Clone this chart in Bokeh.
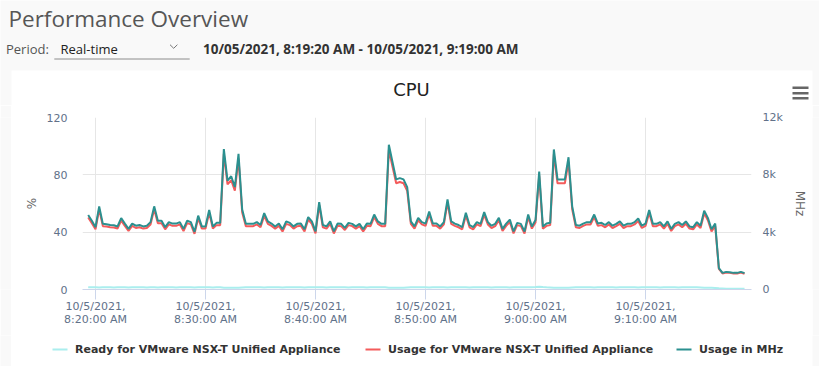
import pandas as pd
from bokeh.plotting import figure
from bokeh.layouts import column, row
from bokeh.models import (Range1d, LinearAxis, FixedTicker, ColumnDataSource)
from bokeh.core.properties import value
from bokeh.embed import file_html
from bokeh.resources import INLINE

# ---------------- data ----------------
start_time = "2021-10-05 08:19:20"
n_points = 180
sample_freq = "20s"

usage_mhz = [
    5200, 4800, 4350, 5800, 4580, 4550, 4500, 4480, 4400, 4980,
    4600, 4230, 4600, 4450, 4500, 4400, 4450, 4700, 5800, 4800,
    4800, 4350, 4700, 4600, 4600, 4700, 4230, 4800, 4700, 4020,
    5150, 4400, 4400, 5550, 4400, 4650, 4650, 9800, 7600, 7900,
    7150, 9470, 5580, 4580, 4580, 4580, 4700, 4500, 5330, 4750,
    4600, 4400, 4600, 4200, 4750, 4650, 4400, 4580, 4600, 4200,
    5050, 4750, 4050, 6100, 4500, 4400, 4750, 4050, 4600, 4580,
    4300, 4650, 4580, 4400, 4580, 4200, 4600, 4580, 5230, 4750,
    4580, 4580, 10100, 8880, 7680, 7770, 7680, 7140, 4750, 4400,
    5000, 4700, 4600, 5440, 4600, 4600, 4400, 4700, 6280, 4750,
    4600, 4500, 4350, 5350, 4500, 4350, 4700, 4580, 5400, 4700,
    4450, 4580, 5000, 4230, 4600, 4880, 4050, 4650, 4580, 4050,
    5230, 4400, 4850, 8230, 4400, 4600, 4650, 9770, 7680, 7680,
    7680, 9230, 5800, 4500, 4450, 4600, 4700, 4700, 5230, 4600,
    4650, 4500, 4700, 4450, 4580, 4750, 4450, 4580, 4580, 4700,
    4950, 4450, 4600, 5550, 4580, 4580, 4700, 4400, 4750, 4230,
    4580, 4700, 4500, 4750, 4400, 4350, 4700, 4450, 5500, 5000,
    4200, 4600, 1490, 1160, 1230, 1200, 1160, 1160, 1230, 1140,
]

usage_pct = [
    50.2, 46.3, 42.0, 56.0, 44.2, 43.9, 43.4, 43.2, 42.5, 48.1,
    44.4, 40.8, 44.4, 42.9, 43.4, 42.5, 42.9, 45.4, 56.0, 46.3,
    46.3, 42.0, 45.4, 44.4, 44.4, 45.4, 40.8, 46.3, 45.4, 38.8,
    49.7, 42.5, 42.5, 53.6, 42.5, 44.9, 44.9, 94.6, 73.3, 76.2,
    69.0, 91.4, 53.8, 44.2, 44.2, 44.2, 45.4, 43.4, 51.4, 45.8,
    44.4, 42.5, 44.4, 40.5, 45.8, 44.9, 42.5, 44.2, 44.4, 40.5,
    48.7, 45.8, 39.1, 58.9, 43.4, 42.5, 45.8, 39.1, 44.4, 44.2,
    41.5, 44.9, 44.2, 42.5, 44.2, 40.5, 44.4, 44.2, 50.5, 45.8,
    44.2, 44.2, 97.5, 85.7, 74.1, 75.0, 74.1, 68.9, 45.8, 42.5,
    48.3, 45.4, 44.4, 52.5, 44.4, 44.4, 42.5, 45.4, 60.6, 45.8,
    44.4, 43.4, 42.0, 51.6, 43.4, 42.0, 45.4, 44.2, 52.1, 45.4,
    42.9, 44.2, 48.3, 40.8, 44.4, 47.1, 39.1, 44.9, 44.2, 39.1,
    50.5, 42.5, 46.8, 79.4, 42.5, 44.4, 44.9, 94.3, 74.1, 74.1,
    74.1, 89.1, 56.0, 43.4, 42.9, 44.4, 45.4, 45.4, 50.5, 44.4,
    44.9, 43.4, 45.4, 42.9, 44.2, 45.8, 42.9, 44.2, 44.2, 45.4,
    47.8, 42.9, 44.4, 53.6, 44.2, 44.2, 45.4, 42.5, 45.8, 40.8,
    44.2, 45.4, 43.4, 45.8, 42.5, 42.0, 45.4, 42.9, 53.1, 48.3,
    40.5, 44.4, 14.4, 11.2, 11.9, 11.6, 11.2, 11.2, 11.9, 11.0,
]

ready_pct = [
    1.6, 1.5, 1.5, 1.4, 1.6, 1.5, 1.5, 1.4, 1.5, 1.6, 1.5, 1.4, 1.5, 1.5, 1.6, 1.5, 1.4, 1.5, 1.5, 1.4,
    1.5, 1.6, 1.5, 1.5, 1.4, 1.5, 1.5, 1.6, 1.5, 1.4, 1.5, 1.5, 1.6, 1.5, 1.4, 1.5, 1.5, 1.2, 1.3, 1.3,
    1.2, 1.3, 1.4, 1.5, 1.5, 1.6, 1.5, 1.5, 1.4, 1.5, 1.5, 1.6, 1.5, 1.4, 1.5, 1.5, 1.5, 1.6, 1.5, 1.4,
    1.5, 1.5, 1.6, 1.5, 1.5, 1.4, 1.5, 1.5, 1.6, 1.5, 1.5, 1.4, 1.5, 1.5, 1.6, 1.5, 1.4, 1.5, 1.5, 1.5,
    1.6, 1.5, 1.3, 1.2, 1.3, 1.3, 1.3, 1.4, 1.5, 1.5, 1.6, 1.5, 1.5, 1.4, 1.5, 1.6, 1.5, 1.5, 1.4, 1.5,
    1.5, 1.6, 1.5, 1.5, 1.4, 1.5, 1.5, 1.6, 1.5, 1.5, 1.4, 1.5, 1.6, 1.5, 1.5, 1.4, 1.5, 1.5, 1.6, 1.5,
    1.5, 1.6, 1.7, 2.0, 1.7, 1.5, 1.4, 1.3, 1.2, 1.3, 1.3, 1.3, 1.4, 1.5, 1.5, 1.6, 1.5, 1.5, 1.4, 1.5,
    1.5, 1.6, 1.5, 1.5, 1.4, 1.5, 1.5, 1.6, 1.5, 1.5, 1.4, 1.5, 1.5, 1.6, 1.5, 1.5, 1.4, 1.5, 1.5, 1.6,
    1.5, 1.4, 1.5, 1.5, 1.6, 1.5, 1.5, 1.4, 1.3, 1.2, 1.2, 1.1, 0.8, 0.7, 0.6, 0.6, 0.6, 0.6, 0.6, 0.6,
]

x_tick_times = ["2021-10-05 08:20:00", "2021-10-05 08:30:00", "2021-10-05 08:40:00",
                "2021-10-05 08:50:00", "2021-10-05 09:00:00", "2021-10-05 09:10:00"]
x_tick_labels = ["10/5/2021,\n8:20:00 AM", "10/5/2021,\n8:30:00 AM", "10/5/2021,\n8:40:00 AM",
                 "10/5/2021,\n8:50:00 AM", "10/5/2021,\n9:00:00 AM", "10/5/2021,\n9:10:00 AM"]
y_left_ticks = [0, 40, 80, 120]
y_right_ticks = [0, 4000, 8000, 12000]
y_right_labels = ["0", "4k", "8k", "12k"]

series_names = ["Ready for VMware NSX-T Unified Appliance",
                "Usage for VMware NSX-T Unified Appliance",
                "Usage in MHz"]
series_colors = ["#aaeeee", "#f45b5b", "#2b908f"]

page_title = "Performance Overview"
period_label = "Period:"
period_value = "Real-time"
range_text = "10/05/2021, 8:19:20 AM - 10/05/2021, 9:19:00 AM"
chart_title = "CPU"

# ---------------- layout constants ----------------
W = 819
PAGE_BG = "#f9f9f9"
CARD_L, CARD_R, CARD_T = 11, 812, 70
HEAD_H = 105                      # header figure height (page top -> 105)
CHART_TOP, CHART_BOT = HEAD_H, 335
FL, FR, FT, FB = 82, 751, 117, 289  # frame edges in page pixels
LEG_H = 366 - CHART_BOT
FONT = "DejaVu Sans"
TICK_COLOR = "#617189"


def blank(width, height, bg):
    f = figure(width=width, height=height, output_backend="svg", toolbar_location=None,
               title=None, x_axis_location=None, y_axis_location=None, min_border=0,
               x_range=Range1d(0, width), y_range=Range1d(height, 0))
    f.outline_line_color = None
    f.grid.visible = False
    f.background_fill_color = bg
    f.border_fill_color = bg
    return f


def put_text(fig, x, y, txt, size, color, style="normal", font="Open Sans", align="left"):
    fig.text(x=[x], y=[y], text=[txt], text_font=value(font), text_font_size=size,
             text_color=color, text_font_style=style, text_align=align,
             text_baseline="middle")


# ---------------- header (page title, period row, chart title, menu icon) ----------------
hdr = blank(W, HEAD_H, PAGE_BG)
hdr.quad(left=[CARD_L], right=[CARD_R], top=[CARD_T], bottom=[HEAD_H + 5],
         fill_color="white", line_color=None)

put_text(hdr, 8, 18, page_title, "22.5px", "#565656")
put_text(hdr, 5.5, 48, period_label, "13px", "#555555")
put_text(hdr, 60, 48, period_value, "13px", "#222222")
put_text(hdr, 202.5, 48, range_text, "13.5px", "#333333", style="bold")
hdr.segment(x0=[53.8], y0=[58.5], x1=[189.2], y1=[58.5], line_color="#8c8c8c", line_width=1)
hdr.line(x=[169.5, 173.2, 176.9], y=[44.2, 47.8, 44.2], line_color="#777777", line_width=1)
put_text(hdr, 411, 88.5, chart_title, "18px", "#222222", font=FONT, align="center")
hdr.segment(x0=[792, 792, 792], y0=[87.3, 92.7, 97.7], x1=[808, 808, 808],
            y1=[87.3, 92.7, 97.7], line_color="#666666", line_width=2.5)

# ---------------- chart ----------------
times = pd.date_range(start_time, periods=n_points, freq=sample_freq)
src = ColumnDataSource(dict(t=times, ready=ready_pct, pct=usage_pct, mhz=usage_mhz))

x_start = pd.Timestamp("2021-10-05 08:18:49")
x_end = pd.Timestamp("2021-10-05 09:19:38")

CW = CARD_R - CARD_L
p = figure(width=CW, height=CHART_BOT - CHART_TOP, output_backend="svg",
           toolbar_location=None, title=None,
           x_axis_type="datetime", x_range=Range1d(x_start, x_end), y_range=Range1d(0, 120),
           min_border_left=FL - CARD_L, min_border_right=CARD_R - FR,
           min_border_top=FT - CHART_TOP, min_border_bottom=CHART_BOT - FB)
p.extra_y_ranges = {"mhz": Range1d(0, 12000)}
p.outline_line_color = None
p.border_fill_color = "white"
p.background_fill_color = "white"

p.line("t", "ready", source=src, color=series_colors[0], line_width=2)
p.line("t", "pct", source=src, color=series_colors[1], line_width=2)
p.line("t", "mhz", source=src, color=series_colors[2], line_width=2, y_range_name="mhz")

tick_ms = [int(pd.Timestamp(t).value // 10**6) for t in x_tick_times]
xa = p.xaxis[0]
xa.ticker = FixedTicker(ticks=tick_ms)
xa.major_label_overrides = {k: v for k, v in zip(tick_ms, x_tick_labels)}
xa.axis_line_color = "#ccd6eb"
xa.major_tick_line_color = "#ccd6eb"
xa.major_tick_out = 10
xa.major_tick_in = 0
xa.minor_tick_line_color = None
xa.major_label_standoff = 0
xa.major_label_text_font = FONT
xa.major_label_text_font_size = "11px"
xa.major_label_text_color = TICK_COLOR
xa.major_label_text_line_height = 1.05

ya = p.yaxis[0]
ya.ticker = FixedTicker(ticks=y_left_ticks)
ya.axis_line_color = None
ya.major_tick_line_color = None
ya.minor_tick_line_color = None
ya.major_tick_out = 0
ya.major_tick_in = 0
ya.major_label_standoff = 15
ya.major_label_text_font = FONT
ya.major_label_text_font_size = "11px"
ya.major_label_text_color = TICK_COLOR
ya.axis_label = "%"
ya.axis_label_text_font = FONT
ya.axis_label_text_font_size = "12px"
ya.axis_label_text_font_style = "normal"
ya.axis_label_text_color = "#666666"
ya.axis_label_standoff = 5

yr = LinearAxis(y_range_name="mhz", ticker=FixedTicker(ticks=y_right_ticks))
yr.major_label_overrides = {k: v for k, v in zip(y_right_ticks, y_right_labels)}
yr.axis_line_color = None
yr.major_tick_line_color = None
yr.minor_tick_line_color = None
yr.major_tick_out = 0
yr.major_tick_in = 0
yr.major_label_standoff = 11
yr.major_label_text_font = FONT
yr.major_label_text_font_size = "11px"
yr.major_label_text_color = TICK_COLOR
yr.axis_label = "MHz"
yr.axis_label_text_font = FONT
yr.axis_label_text_font_size = "12px"
yr.axis_label_text_font_style = "normal"
yr.axis_label_text_color = "#666666"
yr.axis_label_standoff = 7
p.add_layout(yr, "right")

p.xgrid.grid_line_color = "#e6e6e6"
p.ygrid.grid_line_color = "#e6e6e6"

# ---------------- legend strip (drawn by hand, below the chart) ----------------
leg = blank(CW, LEG_H, "white")
LEG_Y = 349 - CHART_BOT
legend_line_x = [52, 365, 676]      # page x of each legend symbol's left end
for name, color, lx in zip(series_names, series_colors, legend_line_x):
    x0 = lx - CARD_L
    leg.segment(x0=[x0], y0=[LEG_Y], x1=[x0 + 15], y1=[LEG_Y], line_color=color, line_width=2)
    put_text(leg, x0 + 22.5, LEG_Y, name, "11px", "#333333", style="bold", font=FONT)

# ---------------- side strips of the page background ----------------
chart_row = row(blank(CARD_L, CHART_BOT - CHART_TOP, PAGE_BG), p,
                blank(W - CARD_R, CHART_BOT - CHART_TOP, PAGE_BG))
legend_row = row(blank(CARD_L, LEG_H, PAGE_BG), leg, blank(W - CARD_R, LEG_H, PAGE_BG))

layout = column(hdr, chart_row, legend_row)

open("out.html", "w").write(file_html(layout, INLINE))
